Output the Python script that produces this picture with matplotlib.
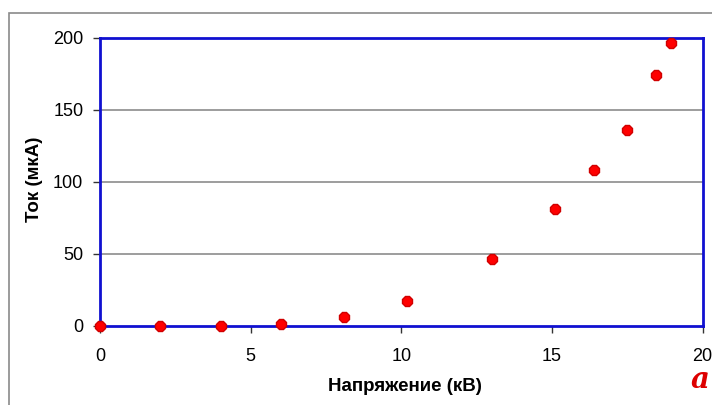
import numpy as np
import matplotlib
matplotlib.use("Agg")
from matplotlib import pyplot as plt
from matplotlib.patches import Rectangle

# voltage (kV) and current (uA)
voltage = [0, 2, 4, 6, 8.1, 10.2, 13.0, 15.1, 16.4, 17.5, 18.45, 18.95]
current = [0, 0, 0, 1, 6, 17, 46, 81, 108, 136, 174, 196]

x_ticks = [0, 5, 10, 15, 20]
y_ticks = [0, 50, 100, 150, 200]
x_label = "Напряжение (кВ)"
y_label = "Ток (мкА)"

plt.rcParams['font.family'] = ['Liberation Sans', 'DejaVu Sans']

fig = plt.figure(figsize=(7.12, 4.05), dpi=100)
fig.patch.set_facecolor("white")

# outer frame of the pasted chart (cut off at right and bottom)
fig.patches.append(Rectangle((9 / 712, -0.2), 1.2, 1 - 13 / 405 + 0.2,
                             transform=fig.transFigure, fill=False,
                             edgecolor="#8a8a8a", linewidth=1.2, zorder=0))

ax = fig.add_axes([100 / 712, 1 - 325.5 / 405, 602.5 / 712, 288 / 405])
ax.set_xlim(0, 20)
ax.set_ylim(0, 200)

for v in y_ticks[1:-1]:
    ax.axhline(v, color="#8c8c8c", linewidth=1.2, zorder=1)

ax.plot(voltage, current, linestyle="none", marker="8", markersize=7.5,
        color="#ff0000", markeredgecolor="#d00000", zorder=3, clip_on=False)

for s in ax.spines.values():
    s.set_color("#1010d0")
    s.set_linewidth(2)

ax.set_xticks(x_ticks)
ax.set_yticks(y_ticks)
ax.tick_params(direction="out", length=5, width=1, color="#333333",
               labelsize=13)
ax.tick_params(axis="x", pad=11)
ax.tick_params(axis="y", pad=7)

ax.set_xlabel(x_label, fontsize=13.5, fontweight="bold", va="center")
ax.set_ylabel(y_label, fontsize=13.5, fontweight="bold", va="center")
ax.xaxis.set_label_coords(0.506, -0.2135)
ax.yaxis.set_label_coords(-0.1087, 0.507)

fig.text(700 / 712, 1 - 380 / 405, "a", color="#dd0000", fontsize=21,
         fontweight="bold", family="DejaVu Serif", ha="center", va="center",
         style="italic")

fig.savefig("out.png", dpi=100)
